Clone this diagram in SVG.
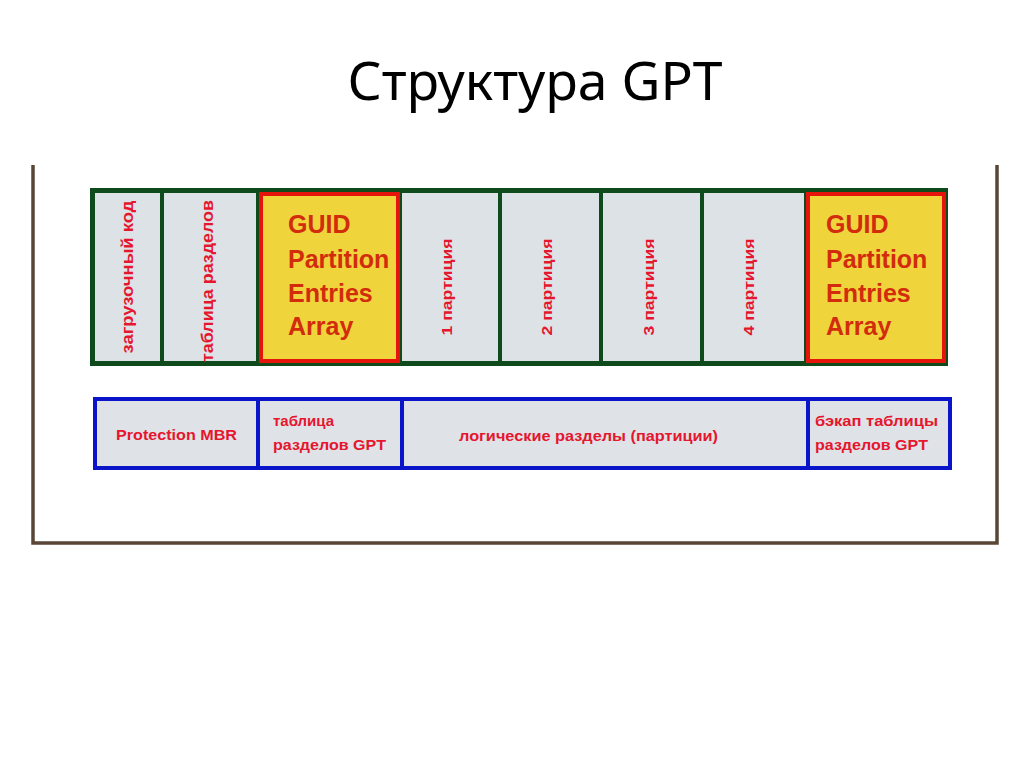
<svg xmlns="http://www.w3.org/2000/svg" width="1024" height="767" viewBox="0 0 1024 767">
<style>
.title{font-family:"Noto Sans","Open Sans",sans-serif;font-size:52px;fill:#000}
.lbl{font-family:"Liberation Sans",Arial,sans-serif;font-weight:bold;fill:#e5162e}
.guid{font-family:"Liberation Sans",Arial,sans-serif;font-weight:bold;font-size:25px;fill:#d22c0c}
.cellg{fill:#dde2e6;stroke:#0f4a1c;stroke-width:5}
.divg{stroke:#0f4a1c;stroke-width:4}
.redbox{fill:#efd43c;stroke:#e5150c;stroke-width:4}
.cellb{fill:#dfe3e7;stroke:#0a14c8;stroke-width:4}
.divb{stroke:#0a14c8;stroke-width:4}
</style>
<rect width="1024" height="767" fill="#ffffff"/>
<g id="title"><text class="title" x="535" y="100" text-anchor="middle" textLength="375" lengthAdjust="spacingAndGlyphs">Структура GPT</text></g>
<g id="frame"><path d="M33,165 V543 H997 V165" fill="none" stroke="#5a4636" stroke-width="3.5"/></g>
<g id="gpt-top">
<rect class="cellg" x="92.5" y="190.5" width="853" height="173"/>
<line class="divg" x1="162" y1="190" x2="162" y2="364"/>
<line class="divg" x1="258" y1="190" x2="258" y2="364"/>
<line class="divg" x1="400" y1="190" x2="400" y2="364"/>
<line class="divg" x1="500" y1="190" x2="500" y2="364"/>
<line class="divg" x1="601" y1="190" x2="601" y2="364"/>
<line class="divg" x1="702" y1="190" x2="702" y2="364"/>
<line class="divg" x1="806" y1="190" x2="806" y2="364"/>
</g>
<g id="boot-code"><text class="lbl" font-size="17" text-anchor="middle" transform="translate(133,277) rotate(-90)" textLength="153" lengthAdjust="spacingAndGlyphs">загрузочный код</text></g>
<g id="partition-table"><text class="lbl" font-size="17" text-anchor="middle" transform="translate(213,281) rotate(-90)" textLength="162" lengthAdjust="spacingAndGlyphs">таблица разделов</text></g>
<g id="guid-1">
<rect class="redbox" x="261" y="194" width="137" height="167"/>
<text class="guid" x="288" y="233">GUID</text>
<text class="guid" x="288" y="268">Partition</text>
<text class="guid" x="288" y="302">Entries</text>
<text class="guid" x="288" y="335">Array</text>
</g>
<g id="part-1"><text class="lbl" font-size="15" text-anchor="middle" transform="translate(452,287) rotate(-90)" textLength="97" lengthAdjust="spacingAndGlyphs">1 партиция</text></g>
<g id="part-2"><text class="lbl" font-size="15" text-anchor="middle" transform="translate(552,287) rotate(-90)" textLength="97" lengthAdjust="spacingAndGlyphs">2 партиция</text></g>
<g id="part-3"><text class="lbl" font-size="15" text-anchor="middle" transform="translate(654,287) rotate(-90)" textLength="97" lengthAdjust="spacingAndGlyphs">3 партиция</text></g>
<g id="part-4"><text class="lbl" font-size="15" text-anchor="middle" transform="translate(754,287) rotate(-90)" textLength="97" lengthAdjust="spacingAndGlyphs">4 партиция</text></g>
<g id="guid-2">
<rect class="redbox" x="808" y="194" width="136" height="167"/>
<text class="guid" x="826" y="233">GUID</text>
<text class="guid" x="826" y="268">Partition</text>
<text class="guid" x="826" y="302">Entries</text>
<text class="guid" x="826" y="335">Array</text>
</g>
<g id="gpt-bottom">
<rect class="cellb" x="95" y="399" width="855" height="69"/>
<line class="divb" x1="258" y1="399" x2="258" y2="468"/>
<line class="divb" x1="402" y1="399" x2="402" y2="468"/>
<line class="divb" x1="808" y1="399" x2="808" y2="468"/>
</g>
<g id="protection-mbr"><text class="lbl" font-size="15" x="116" y="440" textLength="121" lengthAdjust="spacingAndGlyphs">Protection MBR</text></g>
<g id="gpt-table">
<text class="lbl" font-size="15" x="273" y="426">таблица</text>
<text class="lbl" font-size="15" x="273" y="450" textLength="113" lengthAdjust="spacingAndGlyphs">разделов GPT</text>
</g>
<g id="logical-partitions"><text class="lbl" font-size="15" x="459" y="441" textLength="259" lengthAdjust="spacingAndGlyphs">логические разделы (партиции)</text></g>
<g id="backup-table">
<text class="lbl" font-size="15" x="815" y="426" textLength="123" lengthAdjust="spacingAndGlyphs">бэкап таблицы</text>
<text class="lbl" font-size="15" x="815" y="450" textLength="113" lengthAdjust="spacingAndGlyphs">разделов GPT</text>
</g>
<g id="connectors"></g>
</svg>
